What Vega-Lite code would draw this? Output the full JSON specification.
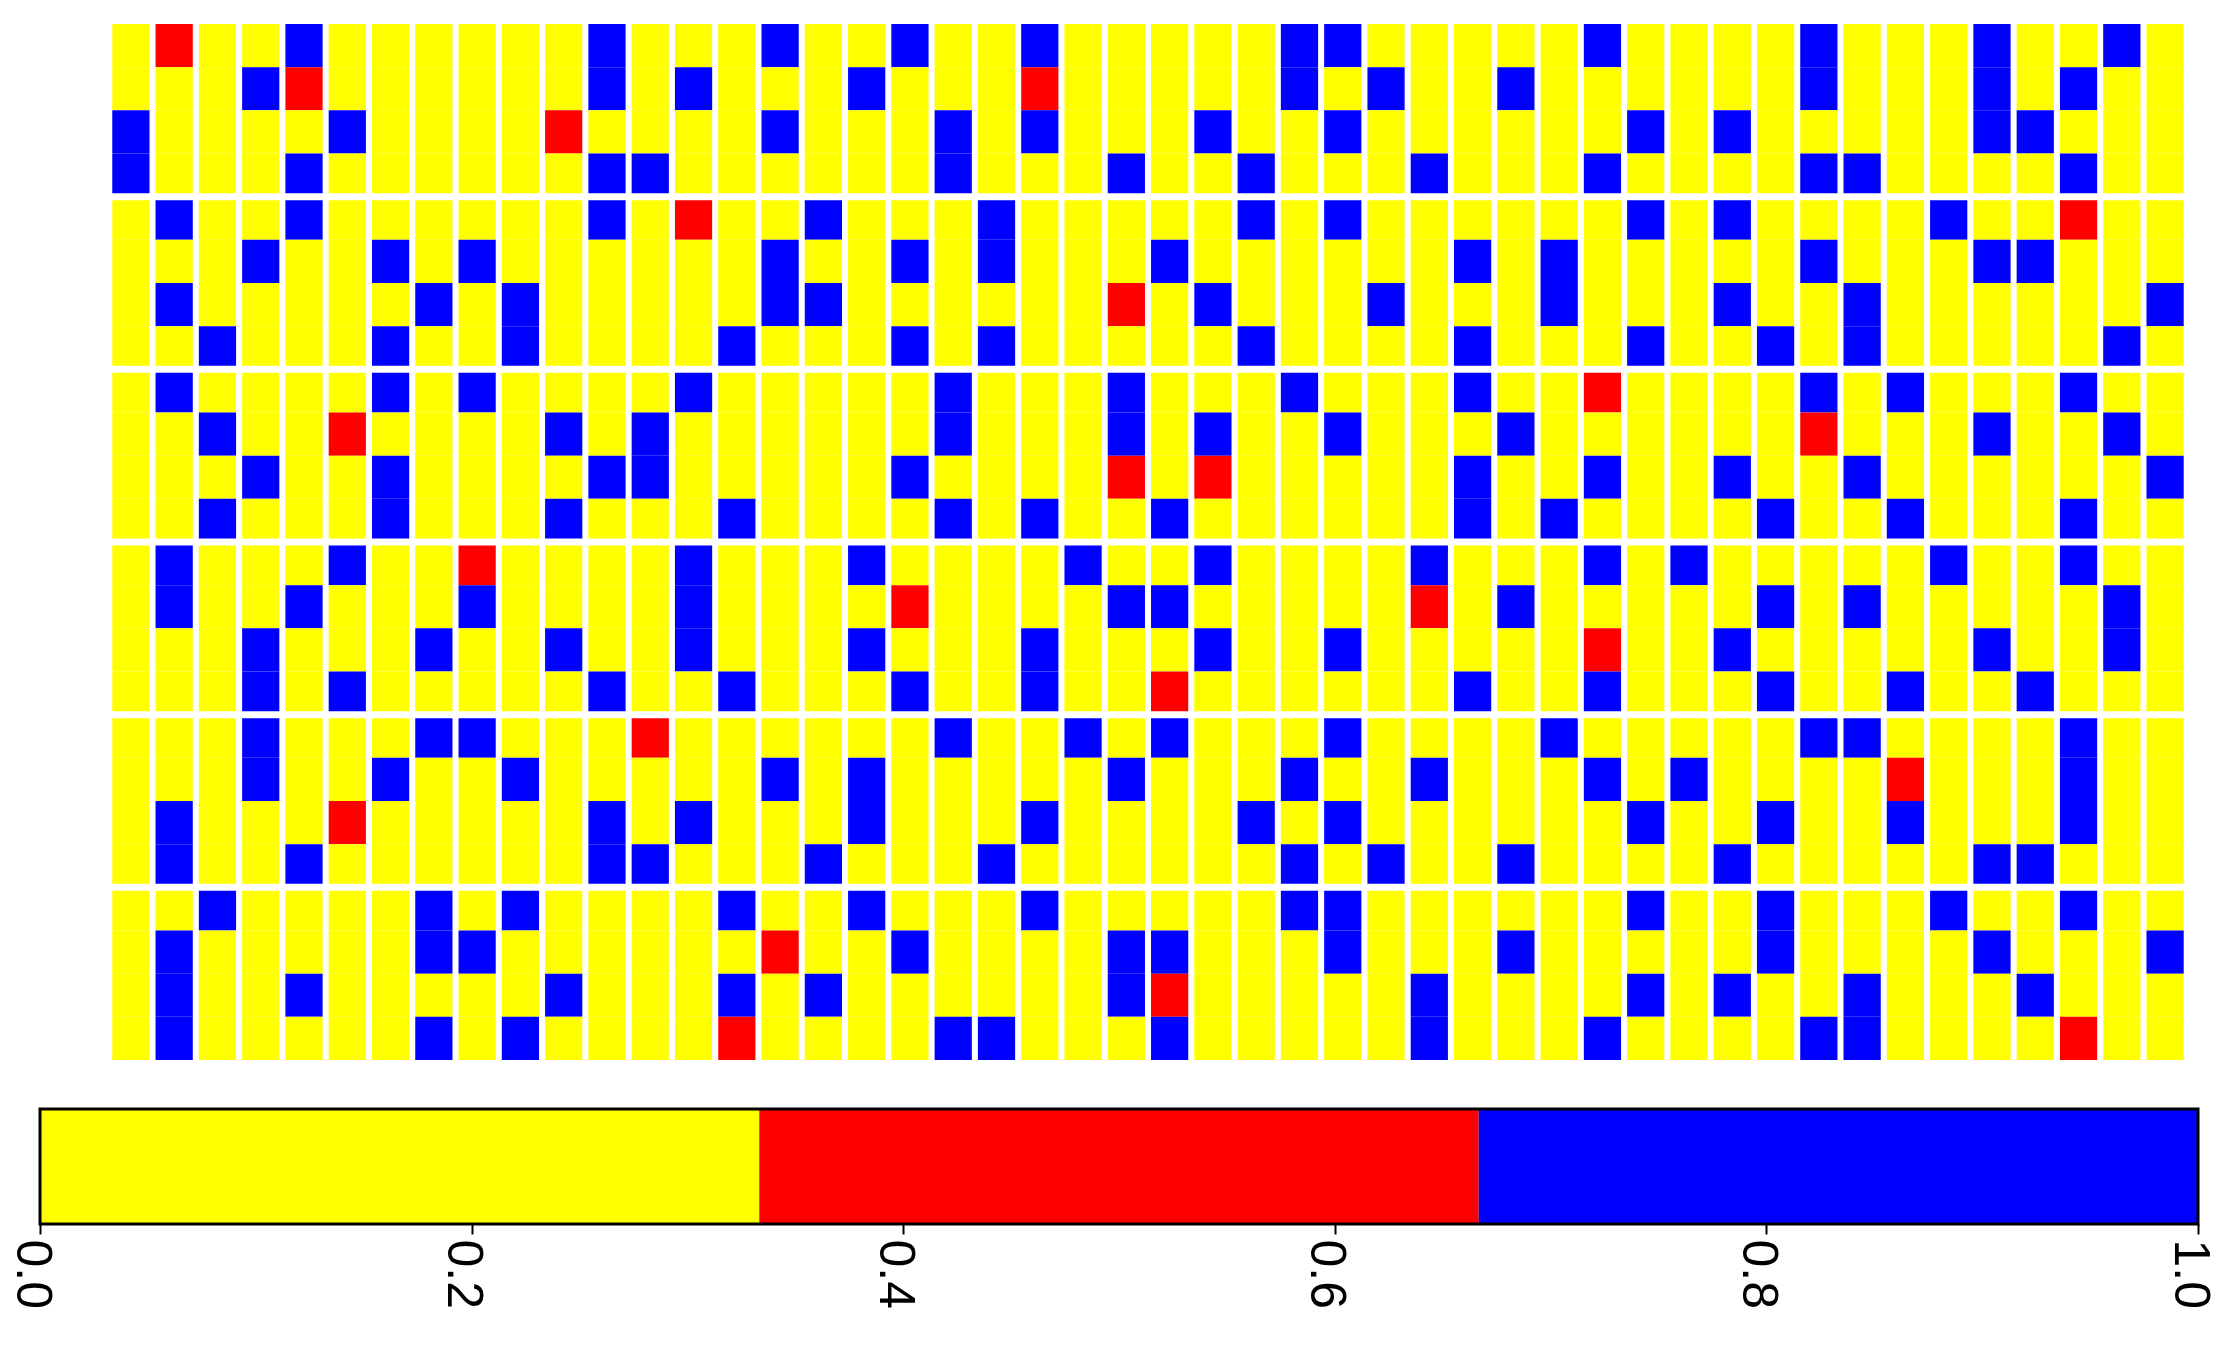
{
"$schema": "https://vega.github.io/schema/vega-lite/v6.json",
"background": "white",
"padding": {"left": 6, "top": 24, "right": 0, "bottom": 0},
"config": {"view": {"stroke": null}},
"spacing": 47,
"datasets": {
"cells": [
{"c":0,"r":0,"v":0},{"c":0,"r":1,"v":0},{"c":0,"r":2,"v":1},{"c":0,"r":3,"v":1},{"c":0,"r":4,"v":0},{"c":0,"r":5,"v":0},{"c":0,"r":6,"v":0},{"c":0,"r":7,"v":0},{"c":0,"r":8,"v":0},{"c":0,"r":9,"v":0},{"c":0,"r":10,"v":0},{"c":0,"r":11,"v":0},{"c":0,"r":12,"v":0},{"c":0,"r":13,"v":0},{"c":0,"r":14,"v":0},{"c":0,"r":15,"v":0},{"c":0,"r":16,"v":0},{"c":0,"r":17,"v":0},{"c":0,"r":18,"v":0},{"c":0,"r":19,"v":0},{"c":0,"r":20,"v":0},{"c":0,"r":21,"v":0},{"c":0,"r":22,"v":0},{"c":0,"r":23,"v":0},
{"c":1,"r":0,"v":0.5},{"c":1,"r":1,"v":0},{"c":1,"r":2,"v":0},{"c":1,"r":3,"v":0},{"c":1,"r":4,"v":1},{"c":1,"r":5,"v":0},{"c":1,"r":6,"v":1},{"c":1,"r":7,"v":0},{"c":1,"r":8,"v":1},{"c":1,"r":9,"v":0},{"c":1,"r":10,"v":0},{"c":1,"r":11,"v":0},{"c":1,"r":12,"v":1},{"c":1,"r":13,"v":1},{"c":1,"r":14,"v":0},{"c":1,"r":15,"v":0},{"c":1,"r":16,"v":0},{"c":1,"r":17,"v":0},{"c":1,"r":18,"v":1},{"c":1,"r":19,"v":1},{"c":1,"r":20,"v":0},{"c":1,"r":21,"v":1},{"c":1,"r":22,"v":1},{"c":1,"r":23,"v":1},
{"c":2,"r":0,"v":0},{"c":2,"r":1,"v":0},{"c":2,"r":2,"v":0},{"c":2,"r":3,"v":0},{"c":2,"r":4,"v":0},{"c":2,"r":5,"v":0},{"c":2,"r":6,"v":0},{"c":2,"r":7,"v":1},{"c":2,"r":8,"v":0},{"c":2,"r":9,"v":1},{"c":2,"r":10,"v":0},{"c":2,"r":11,"v":1},{"c":2,"r":12,"v":0},{"c":2,"r":13,"v":0},{"c":2,"r":14,"v":0},{"c":2,"r":15,"v":0},{"c":2,"r":16,"v":0},{"c":2,"r":17,"v":0},{"c":2,"r":18,"v":0},{"c":2,"r":19,"v":0},{"c":2,"r":20,"v":1},{"c":2,"r":21,"v":0},{"c":2,"r":22,"v":0},{"c":2,"r":23,"v":0},
{"c":3,"r":0,"v":0},{"c":3,"r":1,"v":1},{"c":3,"r":2,"v":0},{"c":3,"r":3,"v":0},{"c":3,"r":4,"v":0},{"c":3,"r":5,"v":1},{"c":3,"r":6,"v":0},{"c":3,"r":7,"v":0},{"c":3,"r":8,"v":0},{"c":3,"r":9,"v":0},{"c":3,"r":10,"v":1},{"c":3,"r":11,"v":0},{"c":3,"r":12,"v":0},{"c":3,"r":13,"v":0},{"c":3,"r":14,"v":1},{"c":3,"r":15,"v":1},{"c":3,"r":16,"v":1},{"c":3,"r":17,"v":1},{"c":3,"r":18,"v":0},{"c":3,"r":19,"v":0},{"c":3,"r":20,"v":0},{"c":3,"r":21,"v":0},{"c":3,"r":22,"v":0},{"c":3,"r":23,"v":0},
{"c":4,"r":0,"v":1},{"c":4,"r":1,"v":0.5},{"c":4,"r":2,"v":0},{"c":4,"r":3,"v":1},{"c":4,"r":4,"v":1},{"c":4,"r":5,"v":0},{"c":4,"r":6,"v":0},{"c":4,"r":7,"v":0},{"c":4,"r":8,"v":0},{"c":4,"r":9,"v":0},{"c":4,"r":10,"v":0},{"c":4,"r":11,"v":0},{"c":4,"r":12,"v":0},{"c":4,"r":13,"v":1},{"c":4,"r":14,"v":0},{"c":4,"r":15,"v":0},{"c":4,"r":16,"v":0},{"c":4,"r":17,"v":0},{"c":4,"r":18,"v":0},{"c":4,"r":19,"v":1},{"c":4,"r":20,"v":0},{"c":4,"r":21,"v":0},{"c":4,"r":22,"v":1},{"c":4,"r":23,"v":0},
{"c":5,"r":0,"v":0},{"c":5,"r":1,"v":0},{"c":5,"r":2,"v":1},{"c":5,"r":3,"v":0},{"c":5,"r":4,"v":0},{"c":5,"r":5,"v":0},{"c":5,"r":6,"v":0},{"c":5,"r":7,"v":0},{"c":5,"r":8,"v":0},{"c":5,"r":9,"v":0.5},{"c":5,"r":10,"v":0},{"c":5,"r":11,"v":0},{"c":5,"r":12,"v":1},{"c":5,"r":13,"v":0},{"c":5,"r":14,"v":0},{"c":5,"r":15,"v":1},{"c":5,"r":16,"v":0},{"c":5,"r":17,"v":0},{"c":5,"r":18,"v":0.5},{"c":5,"r":19,"v":0},{"c":5,"r":20,"v":0},{"c":5,"r":21,"v":0},{"c":5,"r":22,"v":0},{"c":5,"r":23,"v":0},
{"c":6,"r":0,"v":0},{"c":6,"r":1,"v":0},{"c":6,"r":2,"v":0},{"c":6,"r":3,"v":0},{"c":6,"r":4,"v":0},{"c":6,"r":5,"v":1},{"c":6,"r":6,"v":0},{"c":6,"r":7,"v":1},{"c":6,"r":8,"v":1},{"c":6,"r":9,"v":0},{"c":6,"r":10,"v":1},{"c":6,"r":11,"v":1},{"c":6,"r":12,"v":0},{"c":6,"r":13,"v":0},{"c":6,"r":14,"v":0},{"c":6,"r":15,"v":0},{"c":6,"r":16,"v":0},{"c":6,"r":17,"v":1},{"c":6,"r":18,"v":0},{"c":6,"r":19,"v":0},{"c":6,"r":20,"v":0},{"c":6,"r":21,"v":0},{"c":6,"r":22,"v":0},{"c":6,"r":23,"v":0},
{"c":7,"r":0,"v":0},{"c":7,"r":1,"v":0},{"c":7,"r":2,"v":0},{"c":7,"r":3,"v":0},{"c":7,"r":4,"v":0},{"c":7,"r":5,"v":0},{"c":7,"r":6,"v":1},{"c":7,"r":7,"v":0},{"c":7,"r":8,"v":0},{"c":7,"r":9,"v":0},{"c":7,"r":10,"v":0},{"c":7,"r":11,"v":0},{"c":7,"r":12,"v":0},{"c":7,"r":13,"v":0},{"c":7,"r":14,"v":1},{"c":7,"r":15,"v":0},{"c":7,"r":16,"v":1},{"c":7,"r":17,"v":0},{"c":7,"r":18,"v":0},{"c":7,"r":19,"v":0},{"c":7,"r":20,"v":1},{"c":7,"r":21,"v":1},{"c":7,"r":22,"v":0},{"c":7,"r":23,"v":1},
{"c":8,"r":0,"v":0},{"c":8,"r":1,"v":0},{"c":8,"r":2,"v":0},{"c":8,"r":3,"v":0},{"c":8,"r":4,"v":0},{"c":8,"r":5,"v":1},{"c":8,"r":6,"v":0},{"c":8,"r":7,"v":0},{"c":8,"r":8,"v":1},{"c":8,"r":9,"v":0},{"c":8,"r":10,"v":0},{"c":8,"r":11,"v":0},{"c":8,"r":12,"v":0.5},{"c":8,"r":13,"v":1},{"c":8,"r":14,"v":0},{"c":8,"r":15,"v":0},{"c":8,"r":16,"v":1},{"c":8,"r":17,"v":0},{"c":8,"r":18,"v":0},{"c":8,"r":19,"v":0},{"c":8,"r":20,"v":0},{"c":8,"r":21,"v":1},{"c":8,"r":22,"v":0},{"c":8,"r":23,"v":0},
{"c":9,"r":0,"v":0},{"c":9,"r":1,"v":0},{"c":9,"r":2,"v":0},{"c":9,"r":3,"v":0},{"c":9,"r":4,"v":0},{"c":9,"r":5,"v":0},{"c":9,"r":6,"v":1},{"c":9,"r":7,"v":1},{"c":9,"r":8,"v":0},{"c":9,"r":9,"v":0},{"c":9,"r":10,"v":0},{"c":9,"r":11,"v":0},{"c":9,"r":12,"v":0},{"c":9,"r":13,"v":0},{"c":9,"r":14,"v":0},{"c":9,"r":15,"v":0},{"c":9,"r":16,"v":0},{"c":9,"r":17,"v":1},{"c":9,"r":18,"v":0},{"c":9,"r":19,"v":0},{"c":9,"r":20,"v":1},{"c":9,"r":21,"v":0},{"c":9,"r":22,"v":0},{"c":9,"r":23,"v":1},
{"c":10,"r":0,"v":0},{"c":10,"r":1,"v":0},{"c":10,"r":2,"v":0.5},{"c":10,"r":3,"v":0},{"c":10,"r":4,"v":0},{"c":10,"r":5,"v":0},{"c":10,"r":6,"v":0},{"c":10,"r":7,"v":0},{"c":10,"r":8,"v":0},{"c":10,"r":9,"v":1},{"c":10,"r":10,"v":0},{"c":10,"r":11,"v":1},{"c":10,"r":12,"v":0},{"c":10,"r":13,"v":0},{"c":10,"r":14,"v":1},{"c":10,"r":15,"v":0},{"c":10,"r":16,"v":0},{"c":10,"r":17,"v":0},{"c":10,"r":18,"v":0},{"c":10,"r":19,"v":0},{"c":10,"r":20,"v":0},{"c":10,"r":21,"v":0},{"c":10,"r":22,"v":1},{"c":10,"r":23,"v":0},
{"c":11,"r":0,"v":1},{"c":11,"r":1,"v":1},{"c":11,"r":2,"v":0},{"c":11,"r":3,"v":1},{"c":11,"r":4,"v":1},{"c":11,"r":5,"v":0},{"c":11,"r":6,"v":0},{"c":11,"r":7,"v":0},{"c":11,"r":8,"v":0},{"c":11,"r":9,"v":0},{"c":11,"r":10,"v":1},{"c":11,"r":11,"v":0},{"c":11,"r":12,"v":0},{"c":11,"r":13,"v":0},{"c":11,"r":14,"v":0},{"c":11,"r":15,"v":1},{"c":11,"r":16,"v":0},{"c":11,"r":17,"v":0},{"c":11,"r":18,"v":1},{"c":11,"r":19,"v":1},{"c":11,"r":20,"v":0},{"c":11,"r":21,"v":0},{"c":11,"r":22,"v":0},{"c":11,"r":23,"v":0},
{"c":12,"r":0,"v":0},{"c":12,"r":1,"v":0},{"c":12,"r":2,"v":0},{"c":12,"r":3,"v":1},{"c":12,"r":4,"v":0},{"c":12,"r":5,"v":0},{"c":12,"r":6,"v":0},{"c":12,"r":7,"v":0},{"c":12,"r":8,"v":0},{"c":12,"r":9,"v":1},{"c":12,"r":10,"v":1},{"c":12,"r":11,"v":0},{"c":12,"r":12,"v":0},{"c":12,"r":13,"v":0},{"c":12,"r":14,"v":0},{"c":12,"r":15,"v":0},{"c":12,"r":16,"v":0.5},{"c":12,"r":17,"v":0},{"c":12,"r":18,"v":0},{"c":12,"r":19,"v":1},{"c":12,"r":20,"v":0},{"c":12,"r":21,"v":0},{"c":12,"r":22,"v":0},{"c":12,"r":23,"v":0},
{"c":13,"r":0,"v":0},{"c":13,"r":1,"v":1},{"c":13,"r":2,"v":0},{"c":13,"r":3,"v":0},{"c":13,"r":4,"v":0.5},{"c":13,"r":5,"v":0},{"c":13,"r":6,"v":0},{"c":13,"r":7,"v":0},{"c":13,"r":8,"v":1},{"c":13,"r":9,"v":0},{"c":13,"r":10,"v":0},{"c":13,"r":11,"v":0},{"c":13,"r":12,"v":1},{"c":13,"r":13,"v":1},{"c":13,"r":14,"v":1},{"c":13,"r":15,"v":0},{"c":13,"r":16,"v":0},{"c":13,"r":17,"v":0},{"c":13,"r":18,"v":1},{"c":13,"r":19,"v":0},{"c":13,"r":20,"v":0},{"c":13,"r":21,"v":0},{"c":13,"r":22,"v":0},{"c":13,"r":23,"v":0},
{"c":14,"r":0,"v":0},{"c":14,"r":1,"v":0},{"c":14,"r":2,"v":0},{"c":14,"r":3,"v":0},{"c":14,"r":4,"v":0},{"c":14,"r":5,"v":0},{"c":14,"r":6,"v":0},{"c":14,"r":7,"v":1},{"c":14,"r":8,"v":0},{"c":14,"r":9,"v":0},{"c":14,"r":10,"v":0},{"c":14,"r":11,"v":1},{"c":14,"r":12,"v":0},{"c":14,"r":13,"v":0},{"c":14,"r":14,"v":0},{"c":14,"r":15,"v":1},{"c":14,"r":16,"v":0},{"c":14,"r":17,"v":0},{"c":14,"r":18,"v":0},{"c":14,"r":19,"v":0},{"c":14,"r":20,"v":1},{"c":14,"r":21,"v":0},{"c":14,"r":22,"v":1},{"c":14,"r":23,"v":0.5},
{"c":15,"r":0,"v":1},{"c":15,"r":1,"v":0},{"c":15,"r":2,"v":1},{"c":15,"r":3,"v":0},{"c":15,"r":4,"v":0},{"c":15,"r":5,"v":1},{"c":15,"r":6,"v":1},{"c":15,"r":7,"v":0},{"c":15,"r":8,"v":0},{"c":15,"r":9,"v":0},{"c":15,"r":10,"v":0},{"c":15,"r":11,"v":0},{"c":15,"r":12,"v":0},{"c":15,"r":13,"v":0},{"c":15,"r":14,"v":0},{"c":15,"r":15,"v":0},{"c":15,"r":16,"v":0},{"c":15,"r":17,"v":1},{"c":15,"r":18,"v":0},{"c":15,"r":19,"v":0},{"c":15,"r":20,"v":0},{"c":15,"r":21,"v":0.5},{"c":15,"r":22,"v":0},{"c":15,"r":23,"v":0},
{"c":16,"r":0,"v":0},{"c":16,"r":1,"v":0},{"c":16,"r":2,"v":0},{"c":16,"r":3,"v":0},{"c":16,"r":4,"v":1},{"c":16,"r":5,"v":0},{"c":16,"r":6,"v":1},{"c":16,"r":7,"v":0},{"c":16,"r":8,"v":0},{"c":16,"r":9,"v":0},{"c":16,"r":10,"v":0},{"c":16,"r":11,"v":0},{"c":16,"r":12,"v":0},{"c":16,"r":13,"v":0},{"c":16,"r":14,"v":0},{"c":16,"r":15,"v":0},{"c":16,"r":16,"v":0},{"c":16,"r":17,"v":0},{"c":16,"r":18,"v":0},{"c":16,"r":19,"v":1},{"c":16,"r":20,"v":0},{"c":16,"r":21,"v":0},{"c":16,"r":22,"v":1},{"c":16,"r":23,"v":0},
{"c":17,"r":0,"v":0},{"c":17,"r":1,"v":1},{"c":17,"r":2,"v":0},{"c":17,"r":3,"v":0},{"c":17,"r":4,"v":0},{"c":17,"r":5,"v":0},{"c":17,"r":6,"v":0},{"c":17,"r":7,"v":0},{"c":17,"r":8,"v":0},{"c":17,"r":9,"v":0},{"c":17,"r":10,"v":0},{"c":17,"r":11,"v":0},{"c":17,"r":12,"v":1},{"c":17,"r":13,"v":0},{"c":17,"r":14,"v":1},{"c":17,"r":15,"v":0},{"c":17,"r":16,"v":0},{"c":17,"r":17,"v":1},{"c":17,"r":18,"v":1},{"c":17,"r":19,"v":0},{"c":17,"r":20,"v":1},{"c":17,"r":21,"v":0},{"c":17,"r":22,"v":0},{"c":17,"r":23,"v":0},
{"c":18,"r":0,"v":1},{"c":18,"r":1,"v":0},{"c":18,"r":2,"v":0},{"c":18,"r":3,"v":0},{"c":18,"r":4,"v":0},{"c":18,"r":5,"v":1},{"c":18,"r":6,"v":0},{"c":18,"r":7,"v":1},{"c":18,"r":8,"v":0},{"c":18,"r":9,"v":0},{"c":18,"r":10,"v":1},{"c":18,"r":11,"v":0},{"c":18,"r":12,"v":0},{"c":18,"r":13,"v":0.5},{"c":18,"r":14,"v":0},{"c":18,"r":15,"v":1},{"c":18,"r":16,"v":0},{"c":18,"r":17,"v":0},{"c":18,"r":18,"v":0},{"c":18,"r":19,"v":0},{"c":18,"r":20,"v":0},{"c":18,"r":21,"v":1},{"c":18,"r":22,"v":0},{"c":18,"r":23,"v":0},
{"c":19,"r":0,"v":0},{"c":19,"r":1,"v":0},{"c":19,"r":2,"v":1},{"c":19,"r":3,"v":1},{"c":19,"r":4,"v":0},{"c":19,"r":5,"v":0},{"c":19,"r":6,"v":0},{"c":19,"r":7,"v":0},{"c":19,"r":8,"v":1},{"c":19,"r":9,"v":1},{"c":19,"r":10,"v":0},{"c":19,"r":11,"v":1},{"c":19,"r":12,"v":0},{"c":19,"r":13,"v":0},{"c":19,"r":14,"v":0},{"c":19,"r":15,"v":0},{"c":19,"r":16,"v":1},{"c":19,"r":17,"v":0},{"c":19,"r":18,"v":0},{"c":19,"r":19,"v":0},{"c":19,"r":20,"v":0},{"c":19,"r":21,"v":0},{"c":19,"r":22,"v":0},{"c":19,"r":23,"v":1},
{"c":20,"r":0,"v":0},{"c":20,"r":1,"v":0},{"c":20,"r":2,"v":0},{"c":20,"r":3,"v":0},{"c":20,"r":4,"v":1},{"c":20,"r":5,"v":1},{"c":20,"r":6,"v":0},{"c":20,"r":7,"v":1},{"c":20,"r":8,"v":0},{"c":20,"r":9,"v":0},{"c":20,"r":10,"v":0},{"c":20,"r":11,"v":0},{"c":20,"r":12,"v":0},{"c":20,"r":13,"v":0},{"c":20,"r":14,"v":0},{"c":20,"r":15,"v":0},{"c":20,"r":16,"v":0},{"c":20,"r":17,"v":0},{"c":20,"r":18,"v":0},{"c":20,"r":19,"v":1},{"c":20,"r":20,"v":0},{"c":20,"r":21,"v":0},{"c":20,"r":22,"v":0},{"c":20,"r":23,"v":1},
{"c":21,"r":0,"v":1},{"c":21,"r":1,"v":0.5},{"c":21,"r":2,"v":1},{"c":21,"r":3,"v":0},{"c":21,"r":4,"v":0},{"c":21,"r":5,"v":0},{"c":21,"r":6,"v":0},{"c":21,"r":7,"v":0},{"c":21,"r":8,"v":0},{"c":21,"r":9,"v":0},{"c":21,"r":10,"v":0},{"c":21,"r":11,"v":1},{"c":21,"r":12,"v":0},{"c":21,"r":13,"v":0},{"c":21,"r":14,"v":1},{"c":21,"r":15,"v":1},{"c":21,"r":16,"v":0},{"c":21,"r":17,"v":0},{"c":21,"r":18,"v":1},{"c":21,"r":19,"v":0},{"c":21,"r":20,"v":1},{"c":21,"r":21,"v":0},{"c":21,"r":22,"v":0},{"c":21,"r":23,"v":0},
{"c":22,"r":0,"v":0},{"c":22,"r":1,"v":0},{"c":22,"r":2,"v":0},{"c":22,"r":3,"v":0},{"c":22,"r":4,"v":0},{"c":22,"r":5,"v":0},{"c":22,"r":6,"v":0},{"c":22,"r":7,"v":0},{"c":22,"r":8,"v":0},{"c":22,"r":9,"v":0},{"c":22,"r":10,"v":0},{"c":22,"r":11,"v":0},{"c":22,"r":12,"v":1},{"c":22,"r":13,"v":0},{"c":22,"r":14,"v":0},{"c":22,"r":15,"v":0},{"c":22,"r":16,"v":1},{"c":22,"r":17,"v":0},{"c":22,"r":18,"v":0},{"c":22,"r":19,"v":0},{"c":22,"r":20,"v":0},{"c":22,"r":21,"v":0},{"c":22,"r":22,"v":0},{"c":22,"r":23,"v":0},
{"c":23,"r":0,"v":0},{"c":23,"r":1,"v":0},{"c":23,"r":2,"v":0},{"c":23,"r":3,"v":1},{"c":23,"r":4,"v":0},{"c":23,"r":5,"v":0},{"c":23,"r":6,"v":0.5},{"c":23,"r":7,"v":0},{"c":23,"r":8,"v":1},{"c":23,"r":9,"v":1},{"c":23,"r":10,"v":0.5},{"c":23,"r":11,"v":0},{"c":23,"r":12,"v":0},{"c":23,"r":13,"v":1},{"c":23,"r":14,"v":0},{"c":23,"r":15,"v":0},{"c":23,"r":16,"v":0},{"c":23,"r":17,"v":1},{"c":23,"r":18,"v":0},{"c":23,"r":19,"v":0},{"c":23,"r":20,"v":0},{"c":23,"r":21,"v":1},{"c":23,"r":22,"v":1},{"c":23,"r":23,"v":0},
{"c":24,"r":0,"v":0},{"c":24,"r":1,"v":0},{"c":24,"r":2,"v":0},{"c":24,"r":3,"v":0},{"c":24,"r":4,"v":0},{"c":24,"r":5,"v":1},{"c":24,"r":6,"v":0},{"c":24,"r":7,"v":0},{"c":24,"r":8,"v":0},{"c":24,"r":9,"v":0},{"c":24,"r":10,"v":0},{"c":24,"r":11,"v":1},{"c":24,"r":12,"v":0},{"c":24,"r":13,"v":1},{"c":24,"r":14,"v":0},{"c":24,"r":15,"v":0.5},{"c":24,"r":16,"v":1},{"c":24,"r":17,"v":0},{"c":24,"r":18,"v":0},{"c":24,"r":19,"v":0},{"c":24,"r":20,"v":0},{"c":24,"r":21,"v":1},{"c":24,"r":22,"v":0.5},{"c":24,"r":23,"v":1},
{"c":25,"r":0,"v":0},{"c":25,"r":1,"v":0},{"c":25,"r":2,"v":1},{"c":25,"r":3,"v":0},{"c":25,"r":4,"v":0},{"c":25,"r":5,"v":0},{"c":25,"r":6,"v":1},{"c":25,"r":7,"v":0},{"c":25,"r":8,"v":0},{"c":25,"r":9,"v":1},{"c":25,"r":10,"v":0.5},{"c":25,"r":11,"v":0},{"c":25,"r":12,"v":1},{"c":25,"r":13,"v":0},{"c":25,"r":14,"v":1},{"c":25,"r":15,"v":0},{"c":25,"r":16,"v":0},{"c":25,"r":17,"v":0},{"c":25,"r":18,"v":0},{"c":25,"r":19,"v":0},{"c":25,"r":20,"v":0},{"c":25,"r":21,"v":0},{"c":25,"r":22,"v":0},{"c":25,"r":23,"v":0},
{"c":26,"r":0,"v":0},{"c":26,"r":1,"v":0},{"c":26,"r":2,"v":0},{"c":26,"r":3,"v":1},{"c":26,"r":4,"v":1},{"c":26,"r":5,"v":0},{"c":26,"r":6,"v":0},{"c":26,"r":7,"v":1},{"c":26,"r":8,"v":0},{"c":26,"r":9,"v":0},{"c":26,"r":10,"v":0},{"c":26,"r":11,"v":0},{"c":26,"r":12,"v":0},{"c":26,"r":13,"v":0},{"c":26,"r":14,"v":0},{"c":26,"r":15,"v":0},{"c":26,"r":16,"v":0},{"c":26,"r":17,"v":0},{"c":26,"r":18,"v":1},{"c":26,"r":19,"v":0},{"c":26,"r":20,"v":0},{"c":26,"r":21,"v":0},{"c":26,"r":22,"v":0},{"c":26,"r":23,"v":0},
{"c":27,"r":0,"v":1},{"c":27,"r":1,"v":1},{"c":27,"r":2,"v":0},{"c":27,"r":3,"v":0},{"c":27,"r":4,"v":0},{"c":27,"r":5,"v":0},{"c":27,"r":6,"v":0},{"c":27,"r":7,"v":0},{"c":27,"r":8,"v":1},{"c":27,"r":9,"v":0},{"c":27,"r":10,"v":0},{"c":27,"r":11,"v":0},{"c":27,"r":12,"v":0},{"c":27,"r":13,"v":0},{"c":27,"r":14,"v":0},{"c":27,"r":15,"v":0},{"c":27,"r":16,"v":0},{"c":27,"r":17,"v":1},{"c":27,"r":18,"v":0},{"c":27,"r":19,"v":1},{"c":27,"r":20,"v":1},{"c":27,"r":21,"v":0},{"c":27,"r":22,"v":0},{"c":27,"r":23,"v":0},
{"c":28,"r":0,"v":1},{"c":28,"r":1,"v":0},{"c":28,"r":2,"v":1},{"c":28,"r":3,"v":0},{"c":28,"r":4,"v":1},{"c":28,"r":5,"v":0},{"c":28,"r":6,"v":0},{"c":28,"r":7,"v":0},{"c":28,"r":8,"v":0},{"c":28,"r":9,"v":1},{"c":28,"r":10,"v":0},{"c":28,"r":11,"v":0},{"c":28,"r":12,"v":0},{"c":28,"r":13,"v":0},{"c":28,"r":14,"v":1},{"c":28,"r":15,"v":0},{"c":28,"r":16,"v":1},{"c":28,"r":17,"v":0},{"c":28,"r":18,"v":1},{"c":28,"r":19,"v":0},{"c":28,"r":20,"v":1},{"c":28,"r":21,"v":1},{"c":28,"r":22,"v":0},{"c":28,"r":23,"v":0},
{"c":29,"r":0,"v":0},{"c":29,"r":1,"v":1},{"c":29,"r":2,"v":0},{"c":29,"r":3,"v":0},{"c":29,"r":4,"v":0},{"c":29,"r":5,"v":0},{"c":29,"r":6,"v":1},{"c":29,"r":7,"v":0},{"c":29,"r":8,"v":0},{"c":29,"r":9,"v":0},{"c":29,"r":10,"v":0},{"c":29,"r":11,"v":0},{"c":29,"r":12,"v":0},{"c":29,"r":13,"v":0},{"c":29,"r":14,"v":0},{"c":29,"r":15,"v":0},{"c":29,"r":16,"v":0},{"c":29,"r":17,"v":0},{"c":29,"r":18,"v":0},{"c":29,"r":19,"v":1},{"c":29,"r":20,"v":0},{"c":29,"r":21,"v":0},{"c":29,"r":22,"v":0},{"c":29,"r":23,"v":0},
{"c":30,"r":0,"v":0},{"c":30,"r":1,"v":0},{"c":30,"r":2,"v":0},{"c":30,"r":3,"v":1},{"c":30,"r":4,"v":0},{"c":30,"r":5,"v":0},{"c":30,"r":6,"v":0},{"c":30,"r":7,"v":0},{"c":30,"r":8,"v":0},{"c":30,"r":9,"v":0},{"c":30,"r":10,"v":0},{"c":30,"r":11,"v":0},{"c":30,"r":12,"v":1},{"c":30,"r":13,"v":0.5},{"c":30,"r":14,"v":0},{"c":30,"r":15,"v":0},{"c":30,"r":16,"v":0},{"c":30,"r":17,"v":1},{"c":30,"r":18,"v":0},{"c":30,"r":19,"v":0},{"c":30,"r":20,"v":0},{"c":30,"r":21,"v":0},{"c":30,"r":22,"v":1},{"c":30,"r":23,"v":1},
{"c":31,"r":0,"v":0},{"c":31,"r":1,"v":0},{"c":31,"r":2,"v":0},{"c":31,"r":3,"v":0},{"c":31,"r":4,"v":0},{"c":31,"r":5,"v":1},{"c":31,"r":6,"v":0},{"c":31,"r":7,"v":1},{"c":31,"r":8,"v":1},{"c":31,"r":9,"v":0},{"c":31,"r":10,"v":1},{"c":31,"r":11,"v":1},{"c":31,"r":12,"v":0},{"c":31,"r":13,"v":0},{"c":31,"r":14,"v":0},{"c":31,"r":15,"v":1},{"c":31,"r":16,"v":0},{"c":31,"r":17,"v":0},{"c":31,"r":18,"v":0},{"c":31,"r":19,"v":0},{"c":31,"r":20,"v":0},{"c":31,"r":21,"v":0},{"c":31,"r":22,"v":0},{"c":31,"r":23,"v":0},
{"c":32,"r":0,"v":0},{"c":32,"r":1,"v":1},{"c":32,"r":2,"v":0},{"c":32,"r":3,"v":0},{"c":32,"r":4,"v":0},{"c":32,"r":5,"v":0},{"c":32,"r":6,"v":0},{"c":32,"r":7,"v":0},{"c":32,"r":8,"v":0},{"c":32,"r":9,"v":1},{"c":32,"r":10,"v":0},{"c":32,"r":11,"v":0},{"c":32,"r":12,"v":0},{"c":32,"r":13,"v":1},{"c":32,"r":14,"v":0},{"c":32,"r":15,"v":0},{"c":32,"r":16,"v":0},{"c":32,"r":17,"v":0},{"c":32,"r":18,"v":0},{"c":32,"r":19,"v":1},{"c":32,"r":20,"v":0},{"c":32,"r":21,"v":1},{"c":32,"r":22,"v":0},{"c":32,"r":23,"v":0},
{"c":33,"r":0,"v":0},{"c":33,"r":1,"v":0},{"c":33,"r":2,"v":0},{"c":33,"r":3,"v":0},{"c":33,"r":4,"v":0},{"c":33,"r":5,"v":1},{"c":33,"r":6,"v":1},{"c":33,"r":7,"v":0},{"c":33,"r":8,"v":0},{"c":33,"r":9,"v":0},{"c":33,"r":10,"v":0},{"c":33,"r":11,"v":1},{"c":33,"r":12,"v":0},{"c":33,"r":13,"v":0},{"c":33,"r":14,"v":0},{"c":33,"r":15,"v":0},{"c":33,"r":16,"v":1},{"c":33,"r":17,"v":0},{"c":33,"r":18,"v":0},{"c":33,"r":19,"v":0},{"c":33,"r":20,"v":0},{"c":33,"r":21,"v":0},{"c":33,"r":22,"v":0},{"c":33,"r":23,"v":0},
{"c":34,"r":0,"v":1},{"c":34,"r":1,"v":0},{"c":34,"r":2,"v":0},{"c":34,"r":3,"v":1},{"c":34,"r":4,"v":0},{"c":34,"r":5,"v":0},{"c":34,"r":6,"v":0},{"c":34,"r":7,"v":0},{"c":34,"r":8,"v":0.5},{"c":34,"r":9,"v":0},{"c":34,"r":10,"v":1},{"c":34,"r":11,"v":0},{"c":34,"r":12,"v":1},{"c":34,"r":13,"v":0},{"c":34,"r":14,"v":0.5},{"c":34,"r":15,"v":1},{"c":34,"r":16,"v":0},{"c":34,"r":17,"v":1},{"c":34,"r":18,"v":0},{"c":34,"r":19,"v":0},{"c":34,"r":20,"v":0},{"c":34,"r":21,"v":0},{"c":34,"r":22,"v":0},{"c":34,"r":23,"v":1},
{"c":35,"r":0,"v":0},{"c":35,"r":1,"v":0},{"c":35,"r":2,"v":1},{"c":35,"r":3,"v":0},{"c":35,"r":4,"v":1},{"c":35,"r":5,"v":0},{"c":35,"r":6,"v":0},{"c":35,"r":7,"v":1},{"c":35,"r":8,"v":0},{"c":35,"r":9,"v":0},{"c":35,"r":10,"v":0},{"c":35,"r":11,"v":0},{"c":35,"r":12,"v":0},{"c":35,"r":13,"v":0},{"c":35,"r":14,"v":0},{"c":35,"r":15,"v":0},{"c":35,"r":16,"v":0},{"c":35,"r":17,"v":0},{"c":35,"r":18,"v":1},{"c":35,"r":19,"v":0},{"c":35,"r":20,"v":1},{"c":35,"r":21,"v":0},{"c":35,"r":22,"v":1},{"c":35,"r":23,"v":0},
{"c":36,"r":0,"v":0},{"c":36,"r":1,"v":0},{"c":36,"r":2,"v":0},{"c":36,"r":3,"v":0},{"c":36,"r":4,"v":0},{"c":36,"r":5,"v":0},{"c":36,"r":6,"v":0},{"c":36,"r":7,"v":0},{"c":36,"r":8,"v":0},{"c":36,"r":9,"v":0},{"c":36,"r":10,"v":0},{"c":36,"r":11,"v":0},{"c":36,"r":12,"v":1},{"c":36,"r":13,"v":0},{"c":36,"r":14,"v":0},{"c":36,"r":15,"v":0},{"c":36,"r":16,"v":0},{"c":36,"r":17,"v":1},{"c":36,"r":18,"v":0},{"c":36,"r":19,"v":0},{"c":36,"r":20,"v":0},{"c":36,"r":21,"v":0},{"c":36,"r":22,"v":0},{"c":36,"r":23,"v":0},
{"c":37,"r":0,"v":0},{"c":37,"r":1,"v":0},{"c":37,"r":2,"v":1},{"c":37,"r":3,"v":0},{"c":37,"r":4,"v":1},{"c":37,"r":5,"v":0},{"c":37,"r":6,"v":1},{"c":37,"r":7,"v":0},{"c":37,"r":8,"v":0},{"c":37,"r":9,"v":0},{"c":37,"r":10,"v":1},{"c":37,"r":11,"v":0},{"c":37,"r":12,"v":0},{"c":37,"r":13,"v":0},{"c":37,"r":14,"v":1},{"c":37,"r":15,"v":0},{"c":37,"r":16,"v":0},{"c":37,"r":17,"v":0},{"c":37,"r":18,"v":0},{"c":37,"r":19,"v":1},{"c":37,"r":20,"v":0},{"c":37,"r":21,"v":0},{"c":37,"r":22,"v":1},{"c":37,"r":23,"v":0},
{"c":38,"r":0,"v":0},{"c":38,"r":1,"v":0},{"c":38,"r":2,"v":0},{"c":38,"r":3,"v":0},{"c":38,"r":4,"v":0},{"c":38,"r":5,"v":0},{"c":38,"r":6,"v":0},{"c":38,"r":7,"v":1},{"c":38,"r":8,"v":0},{"c":38,"r":9,"v":0},{"c":38,"r":10,"v":0},{"c":38,"r":11,"v":1},{"c":38,"r":12,"v":0},{"c":38,"r":13,"v":1},{"c":38,"r":14,"v":0},{"c":38,"r":15,"v":1},{"c":38,"r":16,"v":0},{"c":38,"r":17,"v":0},{"c":38,"r":18,"v":1},{"c":38,"r":19,"v":0},{"c":38,"r":20,"v":1},{"c":38,"r":21,"v":1},{"c":38,"r":22,"v":0},{"c":38,"r":23,"v":0},
{"c":39,"r":0,"v":1},{"c":39,"r":1,"v":1},{"c":39,"r":2,"v":0},{"c":39,"r":3,"v":1},{"c":39,"r":4,"v":0},{"c":39,"r":5,"v":1},{"c":39,"r":6,"v":0},{"c":39,"r":7,"v":0},{"c":39,"r":8,"v":1},{"c":39,"r":9,"v":0.5},{"c":39,"r":10,"v":0},{"c":39,"r":11,"v":0},{"c":39,"r":12,"v":0},{"c":39,"r":13,"v":0},{"c":39,"r":14,"v":0},{"c":39,"r":15,"v":0},{"c":39,"r":16,"v":1},{"c":39,"r":17,"v":0},{"c":39,"r":18,"v":0},{"c":39,"r":19,"v":0},{"c":39,"r":20,"v":0},{"c":39,"r":21,"v":0},{"c":39,"r":22,"v":0},{"c":39,"r":23,"v":1},
{"c":40,"r":0,"v":0},{"c":40,"r":1,"v":0},{"c":40,"r":2,"v":0},{"c":40,"r":3,"v":1},{"c":40,"r":4,"v":0},{"c":40,"r":5,"v":0},{"c":40,"r":6,"v":1},{"c":40,"r":7,"v":1},{"c":40,"r":8,"v":0},{"c":40,"r":9,"v":0},{"c":40,"r":10,"v":1},{"c":40,"r":11,"v":0},{"c":40,"r":12,"v":0},{"c":40,"r":13,"v":1},{"c":40,"r":14,"v":0},{"c":40,"r":15,"v":0},{"c":40,"r":16,"v":1},{"c":40,"r":17,"v":0},{"c":40,"r":18,"v":0},{"c":40,"r":19,"v":0},{"c":40,"r":20,"v":0},{"c":40,"r":21,"v":0},{"c":40,"r":22,"v":1},{"c":40,"r":23,"v":1},
{"c":41,"r":0,"v":0},{"c":41,"r":1,"v":0},{"c":41,"r":2,"v":0},{"c":41,"r":3,"v":0},{"c":41,"r":4,"v":0},{"c":41,"r":5,"v":0},{"c":41,"r":6,"v":0},{"c":41,"r":7,"v":0},{"c":41,"r":8,"v":1},{"c":41,"r":9,"v":0},{"c":41,"r":10,"v":0},{"c":41,"r":11,"v":1},{"c":41,"r":12,"v":0},{"c":41,"r":13,"v":0},{"c":41,"r":14,"v":0},{"c":41,"r":15,"v":1},{"c":41,"r":16,"v":0},{"c":41,"r":17,"v":0.5},{"c":41,"r":18,"v":1},{"c":41,"r":19,"v":0},{"c":41,"r":20,"v":0},{"c":41,"r":21,"v":0},{"c":41,"r":22,"v":0},{"c":41,"r":23,"v":0},
{"c":42,"r":0,"v":0},{"c":42,"r":1,"v":0},{"c":42,"r":2,"v":0},{"c":42,"r":3,"v":0},{"c":42,"r":4,"v":1},{"c":42,"r":5,"v":0},{"c":42,"r":6,"v":0},{"c":42,"r":7,"v":0},{"c":42,"r":8,"v":0},{"c":42,"r":9,"v":0},{"c":42,"r":10,"v":0},{"c":42,"r":11,"v":0},{"c":42,"r":12,"v":1},{"c":42,"r":13,"v":0},{"c":42,"r":14,"v":0},{"c":42,"r":15,"v":0},{"c":42,"r":16,"v":0},{"c":42,"r":17,"v":0},{"c":42,"r":18,"v":0},{"c":42,"r":19,"v":0},{"c":42,"r":20,"v":1},{"c":42,"r":21,"v":0},{"c":42,"r":22,"v":0},{"c":42,"r":23,"v":0},
{"c":43,"r":0,"v":1},{"c":43,"r":1,"v":1},{"c":43,"r":2,"v":1},{"c":43,"r":3,"v":0},{"c":43,"r":4,"v":0},{"c":43,"r":5,"v":1},{"c":43,"r":6,"v":0},{"c":43,"r":7,"v":0},{"c":43,"r":8,"v":0},{"c":43,"r":9,"v":1},{"c":43,"r":10,"v":0},{"c":43,"r":11,"v":0},{"c":43,"r":12,"v":0},{"c":43,"r":13,"v":0},{"c":43,"r":14,"v":1},{"c":43,"r":15,"v":0},{"c":43,"r":16,"v":0},{"c":43,"r":17,"v":0},{"c":43,"r":18,"v":0},{"c":43,"r":19,"v":1},{"c":43,"r":20,"v":0},{"c":43,"r":21,"v":1},{"c":43,"r":22,"v":0},{"c":43,"r":23,"v":0},
{"c":44,"r":0,"v":0},{"c":44,"r":1,"v":0},{"c":44,"r":2,"v":1},{"c":44,"r":3,"v":0},{"c":44,"r":4,"v":0},{"c":44,"r":5,"v":1},{"c":44,"r":6,"v":0},{"c":44,"r":7,"v":0},{"c":44,"r":8,"v":0},{"c":44,"r":9,"v":0},{"c":44,"r":10,"v":0},{"c":44,"r":11,"v":0},{"c":44,"r":12,"v":0},{"c":44,"r":13,"v":0},{"c":44,"r":14,"v":0},{"c":44,"r":15,"v":1},{"c":44,"r":16,"v":0},{"c":44,"r":17,"v":0},{"c":44,"r":18,"v":0},{"c":44,"r":19,"v":1},{"c":44,"r":20,"v":0},{"c":44,"r":21,"v":0},{"c":44,"r":22,"v":1},{"c":44,"r":23,"v":0},
{"c":45,"r":0,"v":0},{"c":45,"r":1,"v":1},{"c":45,"r":2,"v":0},{"c":45,"r":3,"v":1},{"c":45,"r":4,"v":0.5},{"c":45,"r":5,"v":0},{"c":45,"r":6,"v":0},{"c":45,"r":7,"v":0},{"c":45,"r":8,"v":1},{"c":45,"r":9,"v":0},{"c":45,"r":10,"v":0},{"c":45,"r":11,"v":1},{"c":45,"r":12,"v":1},{"c":45,"r":13,"v":0},{"c":45,"r":14,"v":0},{"c":45,"r":15,"v":0},{"c":45,"r":16,"v":1},{"c":45,"r":17,"v":1},{"c":45,"r":18,"v":1},{"c":45,"r":19,"v":0},{"c":45,"r":20,"v":1},{"c":45,"r":21,"v":0},{"c":45,"r":22,"v":0},{"c":45,"r":23,"v":0.5},
{"c":46,"r":0,"v":1},{"c":46,"r":1,"v":0},{"c":46,"r":2,"v":0},{"c":46,"r":3,"v":0},{"c":46,"r":4,"v":0},{"c":46,"r":5,"v":0},{"c":46,"r":6,"v":0},{"c":46,"r":7,"v":1},{"c":46,"r":8,"v":0},{"c":46,"r":9,"v":1},{"c":46,"r":10,"v":0},{"c":46,"r":11,"v":0},{"c":46,"r":12,"v":0},{"c":46,"r":13,"v":1},{"c":46,"r":14,"v":1},{"c":46,"r":15,"v":0},{"c":46,"r":16,"v":0},{"c":46,"r":17,"v":0},{"c":46,"r":18,"v":0},{"c":46,"r":19,"v":0},{"c":46,"r":20,"v":0},{"c":46,"r":21,"v":0},{"c":46,"r":22,"v":0},{"c":46,"r":23,"v":0},
{"c":47,"r":0,"v":0},{"c":47,"r":1,"v":0},{"c":47,"r":2,"v":0},{"c":47,"r":3,"v":0},{"c":47,"r":4,"v":0},{"c":47,"r":5,"v":0},{"c":47,"r":6,"v":1},{"c":47,"r":7,"v":0},{"c":47,"r":8,"v":0},{"c":47,"r":9,"v":0},{"c":47,"r":10,"v":1},{"c":47,"r":11,"v":0},{"c":47,"r":12,"v":0},{"c":47,"r":13,"v":0},{"c":47,"r":14,"v":0},{"c":47,"r":15,"v":0},{"c":47,"r":16,"v":0},{"c":47,"r":17,"v":0},{"c":47,"r":18,"v":0},{"c":47,"r":19,"v":0},{"c":47,"r":20,"v":0},{"c":47,"r":21,"v":1},{"c":47,"r":22,"v":0},{"c":47,"r":23,"v":0}
],
"groups": [{"r":4},{"r":8},{"r":12},{"r":16},{"r":20}],
"bar": [{"lo":0,"hi":0.3333,"v":0},{"lo":0.3333,"hi":0.6667,"v":0.5},{"lo":0.6667,"hi":1,"v":1}],
"frame": [{"lo":0,"hi":1}]
},
"vconcat": [
{
"width": 2158,
"height": 1036,
"layer": [
{
"data": {"name": "cells"},
"mark": {"type": "rect"},
"encoding": {
"x": {"field": "c", "type": "ordinal", "axis": null, "scale": {"paddingInner": 0.14, "paddingOuter": 1.236, "align": 0.835}},
"y": {"field": "r", "type": "ordinal", "axis": null, "scale": {"paddingInner": 0, "paddingOuter": 0}},
"color": {"field": "v", "type": "nominal", "legend": null, "scale": {"domain": [0, 0.5, 1], "range": ["#ffff00", "#ff0000", "#0000ff"]}}
}
},
{
"data": {"name": "groups"},
"mark": {"type": "rule", "color": "white", "strokeWidth": 7},
"encoding": {"y": {"field": "r", "type": "ordinal", "bandPosition": 0, "axis": null}}
}
]
},
{
"width": 2158,
"height": 115,
"layer": [
{
"data": {"name": "bar"},
"mark": {"type": "rect"},
"encoding": {
"x": {"field": "lo", "type": "quantitative", "scale": {"domain": [0, 1], "nice": false, "zero": false},
"axis": {"values": [0, 0.2, 0.4, 0.6, 0.8, 1], "format": ".1f", "labelAngle": 90, "labelFontSize": 50, "labelFont": "Liberation Sans", "labelColor": "black", "labelOffset": -9, "tickColor": "black", "tickSize": 10, "tickWidth": 2, "domain": false, "grid": false, "title": null, "labelPadding": 5, "labelFlush": false, "labelOverlap": false}},
"x2": {"field": "hi"},
"color": {"field": "v", "type": "nominal", "legend": null}
}
},
{
"data": {"name": "frame"},
"mark": {"type": "rect", "filled": false, "stroke": "black", "strokeWidth": 3},
"encoding": {
"x": {"field": "lo", "type": "quantitative",
"axis": {"values": [0, 0.2, 0.4, 0.6, 0.8, 1], "format": ".1f", "labelAngle": 90, "labelFontSize": 50, "labelFont": "Liberation Sans", "labelColor": "black", "labelOffset": -9, "tickColor": "black", "tickSize": 10, "tickWidth": 2, "domain": false, "grid": false, "title": null, "labelPadding": 5, "labelFlush": false, "labelOverlap": false}},
"x2": {"field": "hi"}
}
}
]
}
]
}
